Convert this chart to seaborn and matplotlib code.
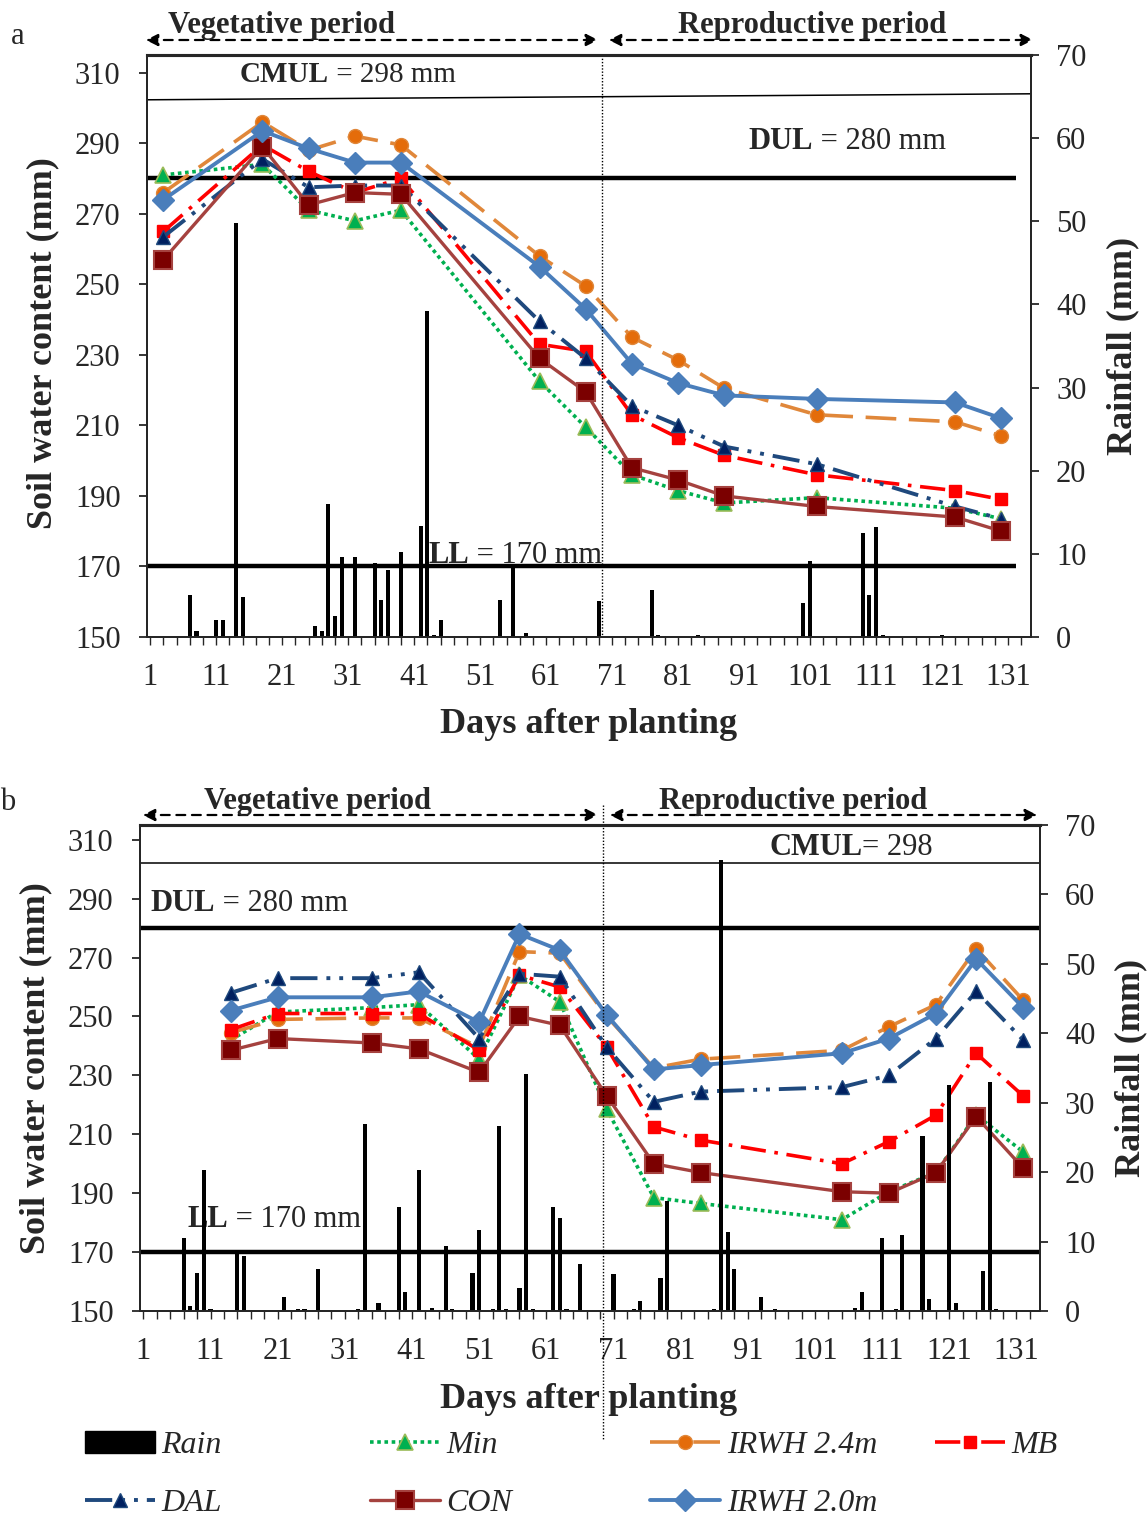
import matplotlib
matplotlib.use("Agg")
import matplotlib.pyplot as plt
import matplotlib.transforms as mtransforms
from matplotlib.lines import Line2D
from matplotlib.patches import Patch, FancyArrowPatch
import numpy as np
import pandas as pd
import seaborn as sns

# ---------------- data: panel a ----------------
days_a = [3, 18, 25, 32, 39, 60, 67, 74, 81, 88, 102, 123, 130]
min_a = [281, 284, 271, 268, 271, 222.5, 209.5, 196, 191.5, 188, 189.5, 186.5, 183.5]
irwh24_a = [276, 296, 288, 292, 289.5, 258, 249.5, 235, 228.5, 220.5, 213, 211, 207]
mb_a = [265, 289.5, 282, 276, 280, 233, 231, 213, 206.5, 201.5, 196, 191.5, 189]
dal_a = [263.5, 285.5, 277.5, 278, 278, 239.5, 229, 215.5, 210, 204, 199, 187, 183.5]
con_a = [257, 289, 272.5, 276, 275.5, 229, 219.5, 198, 194.5, 190, 187, 184, 180]
irwh20_a = [274, 293.5, 288.5, 284.5, 284.5, 255, 243, 227.5, 222, 218.5, 217.5, 216.5, 212]

rain_days_a = [7, 8, 11, 12, 14, 15, 26, 27, 28, 29, 30, 32, 35, 36, 37, 39, 42, 43,
               44, 45, 54, 56, 58, 69, 77, 78, 84, 100, 101, 109, 110, 111, 112, 121]
rain_a = [5.1, 0.7, 2.0, 2.0, 49.8, 4.8, 1.3, 0.7, 16.0, 2.5, 9.6, 9.6, 8.9, 4.5, 8.1, 10.2,
          13.4, 39.2, 0.3, 2.0, 4.5, 8.5, 0.5, 4.3, 5.7, 0.2, 0.2, 4.1, 9.1, 12.5, 5.1, 13.2,
          0.2, 0.2]

# ---------------- data: panel b ----------------
days_b = [14, 21, 35, 42, 51, 57, 63, 70, 77, 84, 105, 112, 119, 125, 132]
min_b = [242, 251.5, 253, 254, 235.5, 264, 255, 218.5, 188.5, 186.5, 181, 190.5, 197, 216.5, 204]
irwh24_b = [244.5, 249, 249.5, 249.5, 239.5, 272, 271.5, 250, 232.5, 235.5, 238.5, 246.5, 254, 273, 255.5]
mb_b = [245.5, 251, 251, 251, 238.5, 264, 260, 239.5, 212.5, 208, 200, 207.5, 216.5, 237.5, 223]
dal_b = [258, 263, 263, 265, 242.5, 264.5, 263.5, 239.5, 221, 224.5, 226, 230, 242.5, 258.5, 242]
con_b = [238.5, 242.5, 241, 239, 231, 250, 247, 223, 200, 197, 190.5, 190, 197, 216, 198.5]
irwh20_b = [252, 256.5, 256.5, 258.5, 248, 278, 272.5, 250.5, 232, 233.5, 237.5, 242.5, 251, 269.5, 253]

rain_days_b = [7, 8, 9, 10, 11, 15, 16, 22, 24, 25, 27, 33, 34, 36, 39, 40, 42, 44, 46, 47,
               50, 51, 53, 54, 55, 57, 58, 59, 62, 63, 64, 66, 71, 74, 75, 78, 79, 86, 87,
               88, 89, 93, 95, 107, 108, 111, 113, 114, 117, 118, 121, 122, 126, 127, 128]
rain_b = [10.5, 0.7, 5.5, 20.3, 0.3, 8.6, 7.9, 2.0, 0.3, 0.3, 6.1, 0.3, 26.9, 1.1, 15.0, 2.8,
          20.3, 0.5, 9.4, 0.3, 5.5, 11.6, 0.3, 26.7, 0.3, 3.3, 34.2, 0.3, 15.0, 13.4, 0.3,
          6.8, 5.3, 0.3, 1.4, 4.8, 15.9, 0.3, 64.9, 11.4, 6.0, 2.0, 0.3, 0.5, 2.8, 10.5,
          0.3, 10.9, 25.2, 1.7, 32.6, 1.2, 5.8, 33.0, 0.3]

series_names = ["Min", "IRWH 2.4m", "MB", "DAL", "CON", "IRWH 2.0m"]

# ---------------- style ----------------
W, H = 1148, 1517
sns.set_style("ticks")
plt.rcParams["font.family"] = ["Liberation Serif", "DejaVu Serif"]
plt.rcParams["axes.linewidth"] = 1.3

GREEN = "#00B050"
OLIVE = "#9BBB59"
ORANGE_L = "#E0873A"
ORANGE_M = "#E46C0A"
RED = "#FF0000"
NAVY_L = "#1F497D"
NAVY_M = "#002060"
CON_L = "#A5423F"
CON_M = "#7B0000"
BLUE = "#4A7EBB"

styles = {
    "Min": dict(color=GREEN, linewidth=2.6, linestyle=(0, (1.0, 1.0)), marker="^",
                markersize=12, markerfacecolor=GREEN, markeredgecolor=OLIVE, markeredgewidth=1.2),
    "IRWH 2.4m": dict(color=ORANGE_L, linewidth=2.6, linestyle=(0, (8.5, 3.5)), marker="o",
                      markersize=10, markerfacecolor=ORANGE_M, markeredgecolor=ORANGE_L, markeredgewidth=1.0),
    "MB": dict(color=RED, linewidth=2.6, linestyle=(0, (7.0, 2.4, 1.0, 2.4)), marker="s",
               markersize=9, markerfacecolor=RED, markeredgecolor=RED, markeredgewidth=1.0),
    "DAL": dict(color=NAVY_L, linewidth=2.8, linestyle=(0, (7, 2.3, 1, 2.3, 1, 2.3)), marker="^",
                markersize=10, markerfacecolor=NAVY_M, markeredgecolor=NAVY_L, markeredgewidth=1.0),
    "CON": dict(color=CON_L, linewidth=2.4, linestyle="-", marker="s",
                markersize=13.5, markerfacecolor=CON_M, markeredgecolor=CON_L, markeredgewidth=1.5),
    "IRWH 2.0m": dict(color=BLUE, linewidth=2.8, linestyle="-", marker="D",
                      markersize=11, markerfacecolor=BLUE, markeredgecolor=BLUE, markeredgewidth=1.0),
}

fig = plt.figure(figsize=(W / 100, H / 100), dpi=100)


def fbox(l, t, r, b):
    return [l / W, 1 - b / H, (r - l) / W, (b - t) / H]


def draw_panel(ax, days, data, rdays, rvals, dul_x1, cmul_y, vline_top, vline_bot):
    ax.set_xlim(0.5, 134.5)
    ax.set_ylim(150, 315)
    ax.hlines([280, 170], 0.5, dul_x1, color="black", linewidth=3.2, zorder=1)
    ax.plot([0.5, 134.5], cmul_y, color="black", linewidth=1.1, zorder=1)
    for name in series_names:
        sns.lineplot(x=days, y=data[name], ax=ax, errorbar=None, sort=False, **styles[name])
    tw = ax.twinx()
    sns.barplot(x=rdays, y=rvals, ax=tw, native_scale=True, width=0.62, color="black",
                errorbar=None, saturation=1, linewidth=0)
    tw.set_ylim(0, 70)
    tw.set_xlim(0.5, 134.5)
    tw.set_ylabel("")
    tw.set_yticks(range(0, 71, 10))
    ax.set_yticks(range(150, 311, 20))
    ticks = list(range(1, 135, 2))
    ax.set_xticks(ticks)
    ax.set_xticklabels([str(t) if (t - 1) % 10 == 0 else "" for t in ticks])
    ax.tick_params(axis="y", direction="out", length=6, width=1.3, labelsize=22, pad=13, right=False)
    ax.tick_params(axis="x", direction="out", length=6, width=1.0, labelsize=22, pad=13, top=False)
    tw.tick_params(axis="y", direction="out", length=6, width=1.3, labelsize=22, pad=12)
    tw.tick_params(axis="x", top=False, bottom=False, labelbottom=False)
    for sp in list(ax.spines.values()) + list(tw.spines.values()):
        sp.set_linewidth(1.4)
    ax.spines["top"].set_linewidth(2.2)
    tw.spines["top"].set_linewidth(2.2)
    trans = mtransforms.blended_transform_factory(ax.transData, ax.transAxes)
    ax.plot([69.5, 69.5], [vline_top, vline_bot], transform=trans, clip_on=False,
            color="black", linewidth=1.0, linestyle=(0, (1, 1.3)), zorder=6)
    ax.set_xlabel("")
    ax.set_ylabel("")
    return tw


def bold_then_normal(ax, x, y, bold, rest, size):
    t1 = ax.text(x, y, bold, fontsize=size, fontweight="bold", ha="left", va="center", zorder=7)
    ax.annotate(rest, xy=(1, 0), xycoords=t1, fontsize=size, ha="left", va="bottom", zorder=7)


def period_arrows(y_px, x_l, x_mid_l, x_mid_r, x_r, t_y, t_veg, t_rep):
    for a, b in [(x_l, x_mid_l), (x_mid_r, x_r)]:
        fig.add_artist(FancyArrowPatch(
            (a, H - y_px), (b, H - y_px), transform=None, arrowstyle="<|-|>",
            mutation_scale=18, linestyle=(0, (4, 3)), linewidth=1.6, color="black"))
    fig.text(t_veg / W, 1 - t_y / H, "Vegetative period", fontsize=22, fontweight="bold",
             ha="center", va="center")
    fig.text(t_rep / W, 1 - t_y / H, "Reproductive period", fontsize=22, fontweight="bold",
             ha="center", va="center")


# ---------------- panel a ----------------
ax_a = fig.add_axes(fbox(147, 55, 1031, 637))
data_a = {"Min": min_a, "IRWH 2.4m": irwh24_a, "MB": mb_a, "DAL": dal_a, "CON": con_a,
          "IRWH 2.0m": irwh20_a}
tw_a = draw_panel(ax_a, days_a, data_a, rain_days_a, rain_a, 132.2, [302.3, 304.0], 1.0, 0.0)
bold_then_normal(ax_a, 14.6, 309.4, "CMUL", " = 298 mm", 21)
bold_then_normal(ax_a, 91.7, 290.5, "DUL", " = 280 mm", 22)
bold_then_normal(ax_a, 43.1, 173.0, "LL", " = 170 mm", 22)
period_arrows(40, 143, 601, 606, 1036, 25, 282, 812)

# ---------------- panel b ----------------
ax_b = fig.add_axes(fbox(140, 825, 1040, 1311))
data_b = {"Min": min_b, "IRWH 2.4m": irwh24_b, "MB": mb_b, "DAL": dal_b, "CON": con_b,
          "IRWH 2.0m": irwh20_b}
tw_b = draw_panel(ax_b, days_b, data_b, rain_days_b, rain_b, 134.5, [302.2, 302.2],
                  (1311 - 805) / 486, (1311 - 1440) / 486)
bold_then_normal(ax_b, 2.0, 288.2, "DUL", " = 280 mm", 22)
bold_then_normal(ax_b, 7.5, 181.0, "LL", " = 170 mm", 22)
bold_then_normal(ax_b, 94.2, 307.2, "CMUL", "= 298", 22)
period_arrows(815, 140, 601, 607, 1040, 801, 318, 793)

# ---------------- labels ----------------
for (xl, yl), (xs, ys), (xr, yr) in [((589, 724), (43, 343), (1123, 346)),
                                     ((589, 1399), (36, 1068), (1131, 1068))]:
    fig.text(xl / W, 1 - yl / H, "Days after planting", fontsize=26, fontweight="bold",
             ha="center", va="center")
    fig.text(xs / W, 1 - ys / H, "Soil water content (mm)", fontsize=26, fontweight="bold",
             ha="center", va="center", rotation=90)
    fig.text(xr / W, 1 - yr / H, "Rainfall (mm)", fontsize=26, fontweight="bold",
             ha="center", va="center", rotation=90)
fig.text(18 / W, 1 - 37 / H, "a", fontsize=22, ha="center", va="center")
fig.text(8 / W, 1 - 802 / H, "b", fontsize=22, ha="center", va="center")

# ---------------- legend ----------------
def lh(name):
    return Line2D([], [], **styles[name])


rain_h = Patch(facecolor="black", edgecolor="black")
legend_cols = [
    ([rain_h, lh("DAL")], ["Rain", "DAL"], 85),
    ([lh("Min"), lh("CON")], ["Min", "CON"], 370),
    ([lh("IRWH 2.4m"), lh("IRWH 2.0m")], ["IRWH 2.4m", "IRWH 2.0m"], 650),
    ([lh("MB")], ["MB"], 935),
]
for handles, labels, xpx in legend_cols:
    fig.legend(handles, labels, loc="upper left", bbox_to_anchor=(xpx / W, 1 - 1431 / H),
               frameon=False, borderpad=0, borderaxespad=0, handlelength=2.2,
               handletextpad=0.2, labelspacing=0.9,
               prop=dict(family=["Liberation Serif", "DejaVu Serif"], style="italic", size=23))

fig.savefig("out.png", dpi=100)
